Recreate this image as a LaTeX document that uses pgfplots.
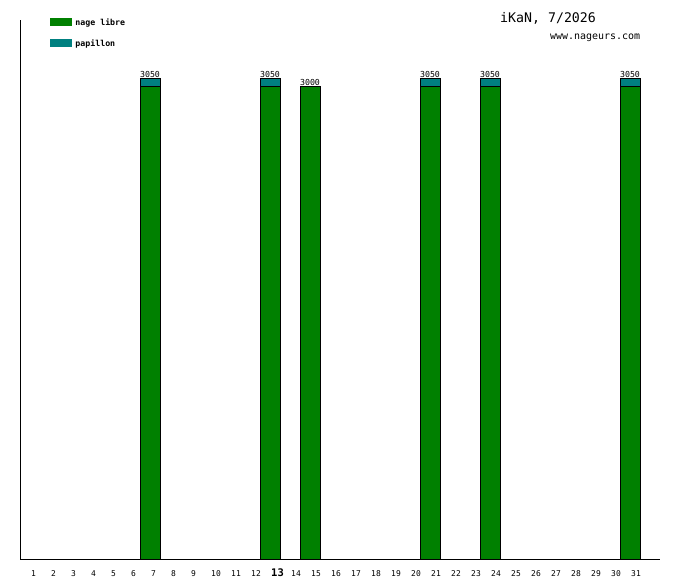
\documentclass[border=0pt]{standalone}
\usepackage{fontspec}
\setmainfont{DejaVu Sans Mono}
\usepackage{pgfplots}
\pgfplotsset{compat=1.18}
\definecolor{nlgreen}{HTML}{008000}
\definecolor{papteal}{HTML}{008080}
\begin{document}
\begin{tikzpicture}[x=1bp,y=1bp]
\useasboundingbox (0,0) rectangle (680,580);
\fill[white] (0,0) rectangle (680,580);
\begin{axis}[
  at={(20bp,20bp)}, anchor=south west,
  scale only axis, width=640bp, height=540bp,
  xmin=0.5, xmax=32.5, ymin=0, ymax=3424,
  axis x line=bottom, axis y line=left,
  axis line style={-, line width=1bp, black},
  ytick=\empty,
  xtick={1,...,31},
  xticklabels={1,2,3,4,5,6,7,8,9,10,11,12,{\bfseries\fontsize{10.5}{11}\selectfont 13},14,15,16,17,18,19,20,21,22,23,24,25,26,27,28,29,30,31},
  major tick length=0pt,
  /pgf/number format/assume math mode=true,
  xticklabel style={anchor=base west, inner sep=0pt, yshift=-17bp, xshift=1bp, font=\fontsize{8}{9}\selectfont},
  ybar, bar width=1, bar shift=0pt,
  legend style={at={(0.046875,1.0028)}, anchor=north west, draw=none, fill=none,
    inner sep=0pt, outer sep=0pt, row sep=11.5bp, column sep=4bp,
    font=\bfseries\fontsize{8.3}{9}\selectfont,
    nodes={inner sep=0pt, text height=6.5bp, text depth=2bp}},
  legend cell align=left,
]
\addlegendimage{legend image code/.code={\fill[nlgreen] (0bp,-1.6bp) rectangle (21bp,4.9bp);}}
\addlegendentry{nage libre}
\addlegendimage{legend image code/.code={\fill[papteal] (0bp,-1.6bp) rectangle (21bp,4.9bp);}}
\addlegendentry{papillon}
% papillon (stacked on top of nage libre): totals
\addplot[forget plot, fill=papteal, draw=black, line width=1bp]
  coordinates {(7,3050) (13,3050) (21,3050) (24,3050) (31,3050)};
% nage libre
\addplot[forget plot, fill=nlgreen, draw=black, line width=1bp]
  coordinates {(7,3000) (13,3000) (15,3000) (21,3000) (24,3000) (31,3000)};
% totals labels
\addplot[forget plot, draw=none, fill=none,
  nodes near coords, point meta=explicit symbolic,
  nodes near coords style={anchor=south, inner sep=0pt, yshift=1.2bp, font=\fontsize{8.3}{9}\selectfont, text=black}]
  coordinates {(7,3050) [3050] (13,3050) [3050] (15,3000) [3000] (21,3050) [3050] (24,3050) [3050] (31,3050) [3050]};
\end{axis}
\node[anchor=base west, inner sep=0pt, font=\fontsize{13.3}{14}\selectfont] at (500,557) {iKaN, 7/2026};
\node[anchor=base west, inner sep=0pt, font=\fontsize{10}{11}\selectfont] at (550,540) {www.nageurs.com};
\end{tikzpicture}
\end{document}
